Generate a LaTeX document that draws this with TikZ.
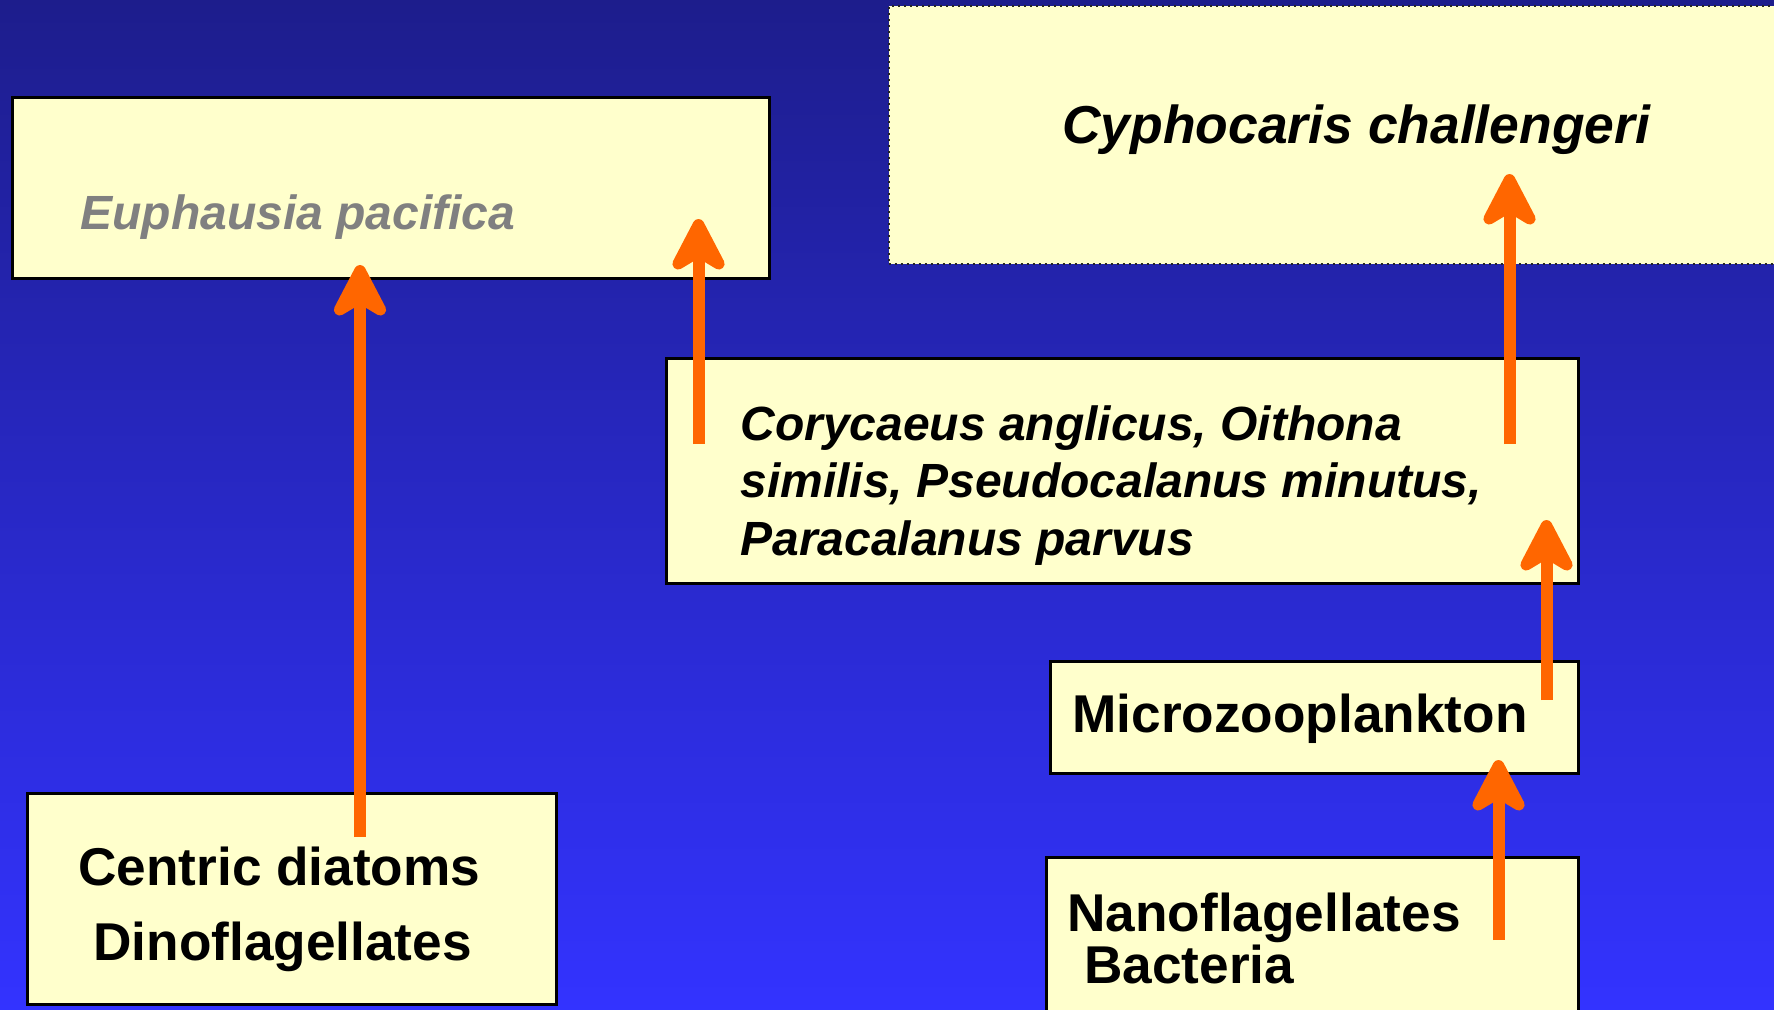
\documentclass[tikz,border=0pt]{standalone}
\usepackage{fontspec}
\setmainfont{Liberation Sans}
\usetikzlibrary{arrows.meta,fit}
\definecolor{bgtop}{RGB}{29,29,140}
\definecolor{bgbot}{RGB}{51,51,255}
\definecolor{boxfill}{RGB}{255,255,204}
\definecolor{arrorange}{RGB}{255,102,0}
\definecolor{graytext}{RGB}{128,128,128}
\begin{document}
\begin{tikzpicture}[x=0.5pt,y=-0.5pt,
  box/.style={draw=black, line width=1.5pt, fill=boxfill, inner sep=0pt},
  dotbox/.style={draw=black!85, line width=1pt, dotted, fill=boxfill, inner sep=0pt},
  ital/.style={anchor=base west, inner sep=0pt, font=\bfseries\itshape\fontsize{24}{29}\selectfont},
  bigital/.style={anchor=base west, inner sep=0pt, font=\bfseries\itshape\fontsize{26.7}{31}\selectfont},
  big/.style={anchor=base west, inner sep=0pt, font=\bfseries\fontsize{26.6}{30}\selectfont},
  arr/.style={draw=arrorange, line width=6pt, -{Stealth[length=33pt,width=34pt,inset=10pt,round]}}]

\useasboundingbox (0,0) rectangle (1774,1009);
\shade[top color=bgtop, bottom color=bgbot] (0,0) rectangle (1774,1009);

% boxes
\node[box, fit={(12.5,97) (769,278)}] (euph) {};
\node[dotbox, fit={(888.5,6) (1800,264)}] (cyph) {};
\node[box, fit={(666,358) (1578.5,583)}] (cory) {};
\node[box, fit={(1050,661) (1578.5,773)}] (micro) {};
\node[box, fit={(1046,857) (1578.5,1030)}] (nano) {};
\node[box, fit={(27,793) (556.5,1004)}] (diat) {};

% texts
\node[ital, text=graytext] (teuph) at (80,229) {Euphausia pacifica};
\node[bigital] (tcyph) at (1062,143) {Cyphocaris challengeri};
\node[ital] (tcory1) at (740,440) {Corycaeus anglicus, Oithona};
\node[ital] (tcory2) at (740,497) {similis, Pseudocalanus minutus,};
\node[ital] (tcory3) at (740,555) {Paracalanus parvus};
\node[big] (tmicro) at (1072,732) {Microzooplankton};
\node[big] (tnano1) at (1067,931) {Nanoflagellates};
\node[big] (tnano2) at (1084,983) {Bacteria};
\node[big] (tdiat1) at (78,885) {Centric diatoms};
\node[big] (tdiat2) at (93,960) {Dinoflagellates};

% arrow end points
\coordinate (a1s) at (360,837);   \coordinate (a1e) at (360,265);
\coordinate (a2s) at (698.5,444); \coordinate (a2e) at (698.5,219);
\coordinate (a3s) at (1509.5,444);\coordinate (a3e) at (1509.5,174);
\coordinate (a4s) at (1546.5,700);\coordinate (a4e) at (1546.5,520);
\coordinate (a5s) at (1498.5,940);\coordinate (a5e) at (1498.5,760);

\draw[arr] (a1s) -- (a1e);
\draw[arr] (a2s) -- (a2e);
\draw[arr] (a3s) -- (a3e);
\draw[arr] (a4s) -- (a4e);
\draw[arr] (a5s) -- (a5e);
\end{tikzpicture}
\end{document}
